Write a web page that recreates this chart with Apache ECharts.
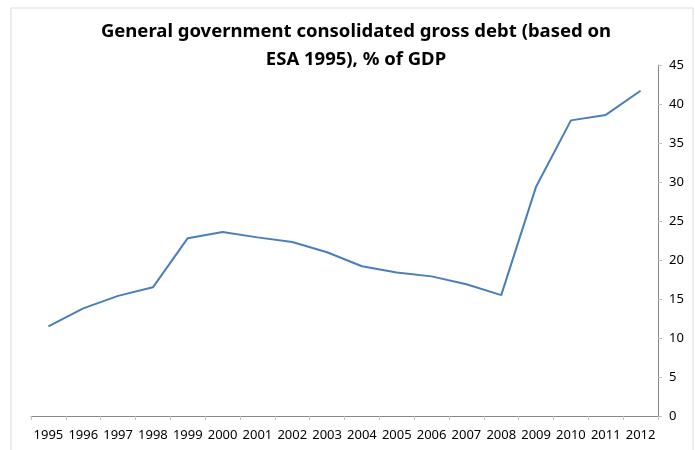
<!DOCTYPE html>
<html>
<head>
<meta charset="utf-8">
<script src="https://cdn.jsdelivr.net/npm/echarts@6/dist/echarts.min.js"></script>
<style>
  html, body { margin: 0; padding: 0; background: #fff; }
  #chart { width: 695px; height: 450px; }
</style>
</head>
<body>
<div id="chart"></div>
<script>
const years = ["1995", "1996", "1997", "1998", "1999", "2000", "2001", "2002", "2003",
  "2004", "2005", "2006", "2007", "2008", "2009", "2010", "2011", "2012"];
const debt = [11.5, 13.8, 15.4, 16.5, 22.8, 23.6, 22.9, 22.3, 21.0,
  19.2, 18.4, 17.9, 16.9, 15.5, 29.4, 37.9, 38.6, 41.7];
const yTicks = { min: 0, max: 45, step: 5 };

const chart = echarts.init(document.getElementById("chart"));

const option = {
  animation: false,
  textStyle: { fontFamily: "Noto Sans" },
  title: {
    text: "General government consolidated gross debt (based on\nESA 1995), % of GDP",
    left: 351,
    top: 13,
    textAlign: "center",
    textStyle: {
      fontFamily: "Noto Sans",
      fontSize: 18.5,
      fontWeight: "bold",
      color: "#000",
      lineHeight: 28,
    },
  },
  graphic: [
    {
      type: "rect",
      shape: { x: 11, y: 8, width: 682, height: 460 },
      style: { fill: "none", stroke: "#d9d9d9", lineWidth: 1 },
      silent: true,
    },
  ],
  grid: { left: 31, right: 37, top: 65, bottom: 34 },
  xAxis: {
    type: "category",
    data: years,
    boundaryGap: true,
    axisLine: { lineStyle: { color: "#868686" } },
    axisTick: { show: true, length: 4, lineStyle: { color: "#bfbfbf" } },
    axisLabel: { color: "#000", fontSize: 13, margin: 13, interval: 0 },
  },
  yAxis: {
    type: "value",
    position: "right",
    min: yTicks.min,
    max: yTicks.max,
    interval: yTicks.step,
    axisLine: { show: true, lineStyle: { color: "#868686" } },
    axisTick: { show: true, length: 4, lineStyle: { color: "#bfbfbf" } },
    axisLabel: { color: "#000", fontSize: 13, margin: 11 },
    splitLine: { show: false },
  },
  series: [
    {
      name: "Debt",
      type: "line",
      data: debt,
      symbol: "none",
      lineStyle: { color: "#4a7ebb", width: 2 },
    },
  ],
};

chart.setOption(option);
</script>
</body>
</html>
